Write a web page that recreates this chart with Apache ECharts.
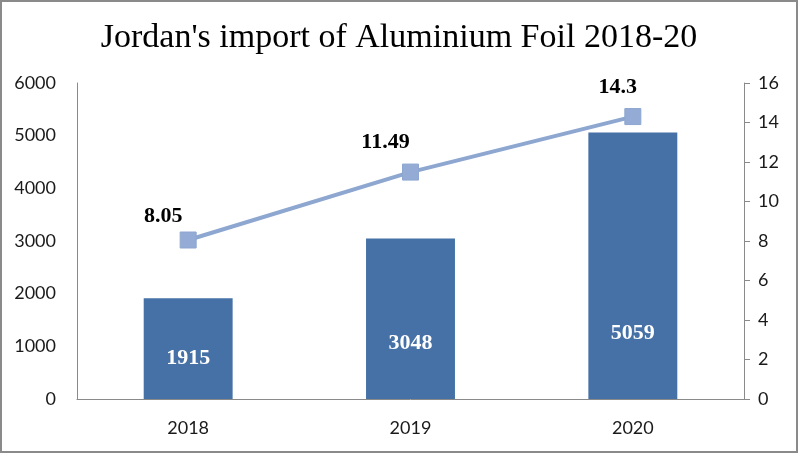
<!DOCTYPE html>
<html><head><meta charset="utf-8">
<script src="https://cdn.jsdelivr.net/npm/echarts@6/dist/echarts.min.js"></script>
<style>
html,body{margin:0;padding:0;background:#fff;}
#wrap{position:relative;width:798px;height:453px;}
#chart{position:absolute;left:0;top:0;width:798px;height:453px;}
#frame{position:absolute;left:0;top:0;width:798px;height:453px;box-sizing:border-box;border:2px solid #8a8a8a;pointer-events:none;}
</style></head>
<body>
<div id="wrap"><div id="chart"></div><div id="frame"></div></div>
<script>
const titleText = "Jordan's import of Aluminium Foil 2018-20";
const years = ['2018', '2019', '2020'];
const importValues = [1915, 3048, 5059];
const lineValues = [8.05, 11.49, 14.3];

const barLabelLift = [30, 45, 55];
const lineLabelShift = [[-25, -24], [-25, -30], [-15, -29]];

const chart = echarts.init(document.getElementById('chart'));
const axisFont = { fontFamily: 'Lato', fontSize: 18, color: '#1a1a1a' };
chart.setOption({
  animation: false,
  title: {
    text: titleText, left: 'center', top: 16,
    textStyle: { fontFamily: 'Liberation Serif', fontWeight: 'normal', fontSize: 34, color: '#000' }
  },
  grid: { left: 77, right: 54, top: 83, bottom: 54 },
  xAxis: {
    type: 'category', data: years,
    axisLine: { lineStyle: { color: '#8a8a8a', width: 1 } },
    axisTick: { show: false },
    axisLabel: Object.assign({ margin: 20 }, axisFont)
  },
  yAxis: [
    { type: 'value', min: 0, max: 6000, interval: 1000,
      axisLine: { show: true, lineStyle: { color: '#8a8a8a' } },
      axisTick: { show: false }, splitLine: { show: false },
      axisLabel: Object.assign({ margin: 21, formatter: v => String(v) }, axisFont) },
    { type: 'value', min: 0, max: 16, interval: 2, position: 'right',
      axisLine: { show: true, lineStyle: { color: '#8a8a8a' } },
      axisTick: { show: true, length: 6, lineStyle: { color: '#8a8a8a' } },
      splitLine: { show: false },
      axisLabel: Object.assign({ margin: 14 }, axisFont) }
  ],
  series: [
    { type: 'bar', yAxisIndex: 0, barWidth: '40%',
      itemStyle: { color: '#4571A6' },
      data: importValues.map((v, i) => ({ value: v, label: { offset: [0, -barLabelLift[i]] } })),
      label: { show: true, position: 'insideBottom', distance: 0, color: '#fff',
        fontFamily: 'Liberation Serif', fontWeight: 'bold', fontSize: 22 } },
    { type: 'line', yAxisIndex: 1, symbol: 'rect', symbolSize: 16,
      lineStyle: { color: '#8DA7D0', width: 4 },
      itemStyle: { color: '#94ABD5', borderColor: '#8DA7D0', borderWidth: 1 },
      data: lineValues.map((v, i) => ({ value: v, label: { offset: lineLabelShift[i] } })),
      label: { show: true, position: 'inside', color: '#000',
        fontFamily: 'Liberation Serif', fontWeight: 'bold', fontSize: 22 } }
  ]
});
</script>
</body></html>
